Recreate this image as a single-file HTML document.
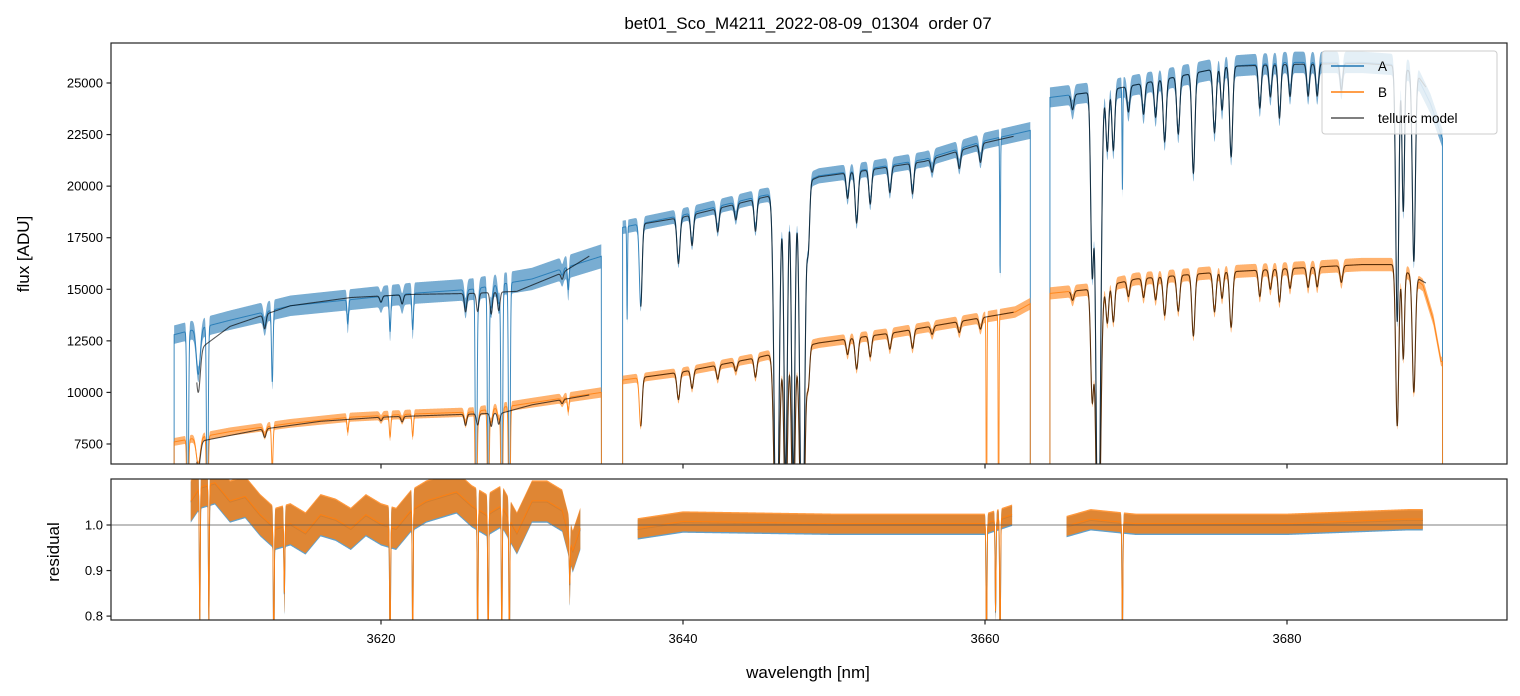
<!DOCTYPE html>
<html><head><meta charset="utf-8">
<style>
html,body{margin:0;padding:0;background:#fff;}
svg{display:block;font-family:"Liberation Sans","DejaVu Sans",sans-serif;}
</style></head>
<body>
<svg id="chart" width="1520" height="696" viewBox="0 0 1520 696" xmlns="http://www.w3.org/2000/svg">
<defs>
<clipPath id="cTop"><rect x="111" y="43" width="1396" height="421"/></clipPath>
<clipPath id="cBot"><rect x="111" y="479" width="1396" height="141"/></clipPath>
</defs>
<rect width="1520" height="696" fill="#fff"/>
<text x="808" y="29" font-size="17" text-anchor="middle" fill="#000">bet01_Sco_M4211_2022-08-09_01304 <tspan>&#160;order 07</tspan></text>
<g id="topData" clip-path="url(#cTop)"></g>
<g id="botData" clip-path="url(#cBot)"></g>
<rect x="111" y="43" width="1396" height="421" fill="none" stroke="#222" stroke-width="1.2"/>
<rect x="111" y="479" width="1396" height="141" fill="none" stroke="#222" stroke-width="1.2"/>
<g id="axes"></g>
<text transform="translate(29,254) rotate(-90)" font-size="17" text-anchor="middle">flux [ADU]</text>
<text transform="translate(59,552) rotate(-90)" font-size="17" text-anchor="middle">residual</text>
<text x="808" y="678" font-size="17" text-anchor="middle">wavelength [nm]</text>
<g id="legendG">
<rect x="1322" y="51" width="175" height="83" rx="3" fill="#fff" fill-opacity="0.8" stroke="#ccc"/>
<line x1="1331" y1="66" x2="1364" y2="66" stroke="#1f77b4" stroke-width="1.5"/>
<text x="1378" y="71" font-size="13.5">A</text>
<line x1="1331" y1="92" x2="1364" y2="92" stroke="#ff7f0e" stroke-width="1.5"/>
<text x="1378" y="97" font-size="13.5">B</text>
<line x1="1331" y1="118" x2="1364" y2="118" stroke="#555" stroke-width="1.5"/>
<text x="1378" y="123" font-size="13.5">telluric model</text>
</g>
</svg>
<script>
// ---- data ----
const segRanges = [[3606.3,3634.6],[3636.0,3663.0],[3664.3,3690.3]];
const modelRanges = [[3607.8,3633.8],[3637.2,3661.9],[3665.6,3689.2]];
const resRanges = [[3607.4,3633.2],[3637.0,3661.8],[3665.4,3689.0]];
const xTicks = [3620,3640,3660,3680];
const yTicksTop = [7500,10000,12500,15000,17500,20000,22500,25000];
const yTicksBot = [0.8,0.9,1.0];
const contAW = [3606.3,3610,3614,3618,3622,3626,3630,3632,3634.6, 3636,3640,3645,3646.5,3649,3652,3656,3660,3663, 3664.3,3666.5,3668.5,3672,3676,3680,3685,3687,3688.5,3689.5,3690.3];
const contAV = [12800,13500,14200,14500,14800,15000,15500,16000,16600, 18000,18600,19500,19700,20500,20800,21300,22200,22700, 24300,24500,24700,25200,25800,26000,26000,25900,25500,24000,22300];
const contBW = [3606.3,3610,3614,3618,3622,3626,3630,3634.6, 3636,3640,3645,3649,3654,3658,3662,3663, 3664.3,3667,3670,3675,3680,3685,3687,3688,3689,3689.7,3690.2];
const contBV = [7600,8100,8500,8800,8950,9050,9500,10000, 10600,11000,11700,12400,12900,13400,13900,14300, 14800,15000,15500,15800,16000,16200,16200,15800,15200,13500,11500];
const modAW = [3607.8,3610,3614,3618,3622,3626,3629,3632,3634, 3636,3640,3645,3646.5,3649,3652,3656,3660,3663, 3664.3,3666.5,3668.5,3672,3676,3680,3685,3687,3688.5,3689.5];
const modAV = [12000,13200,14200,14600,14750,14800,14900,15800,16700, 18000,18500,19400,19650,20450,20750,21200,22100,22600, 24300,24500,24700,25200,25800,25900,25950,25850,25500,24500];
const modBW = [3607.8,3612,3616,3620,3624,3628,3630,3634, 3636,3640,3645,3649,3654,3658,3662, 3664.3,3667,3670,3675,3680,3685,3687,3688,3689.2];
const modBV = [7600,8200,8600,8800,8900,9000,9400,9900, 10600,11000,11700,12400,12900,13400,13900, 14800,15000,15500,15800,16000,16200,16200,15800,15300];
const tellC = [3607.9,3612.3,3620.0,3621.4,3625.6,3626.4,3627.3,3627.8,3632.0, 3637.2,3639.7,3640.6,3642.3,3643.5,3644.8,3646.2,3646.8,3647.3,3647.9,3648.3,3650.9,3651.5,3652.4,3653.7,3655.2,3656.5,3658.3,3659.7, 3665.8,3667.1,3667.5,3668.1,3668.5,3669.5,3670.5,3671.3,3671.9,3672.8,3673.8,3675.2,3675.7,3676.3,3678.2,3678.9,3679.5,3680.2,3681.4,3682.0,3683.6,3687.3,3687.7,3688.4];
const tellD = [0.17,0.05,0.02,0.03,0.06,0.06,0.07,0.06,0.02, 0.22,0.12,0.08,0.06,0.04,0.08,0.97,0.7,0.7,0.97,0.15,0.06,0.12,0.08,0.06,0.07,0.03,0.04,0.04, 0.03,0.35,0.95,0.12,0.12,0.05,0.06,0.07,0.12,0.11,0.19,0.12,0.08,0.17,0.08,0.06,0.1,0.06,0.06,0.06,0.05,0.48,0.27,0.36];
const tellS = [0.13,0.09,0.08,0.08,0.08,0.08,0.08,0.08,0.08, 0.09,0.1,0.09,0.09,0.09,0.09,0.15,0.11,0.11,0.15,0.09,0.09,0.1,0.09,0.09,0.09,0.09,0.09,0.09, 0.09,0.1,0.15,0.09,0.09,0.09,0.09,0.09,0.1,0.1,0.1,0.1,0.09,0.1,0.09,0.09,0.09,0.09,0.09,0.09,0.09,0.1,0.08,0.1];
const extraC = [3607.2,3608.5,3612.8,3617.8,3620.6,3622.1,3626.3,3627.1,3628.0,3628.5,3632.4];
const extraD = [0.8,0.8,0.25,0.08,0.12,0.12,0.9,0.8,0.9,0.9,0.07];
const aOnlyC = [3636.3,3661.0,3669.1];
const aOnlyD = [0.25,0.3,0.2];
const bOnlyC = [3660.1,3660.9];
const bOnlyD = [0.9,0.9];
const noiseA = [0.035,0.018,0.02];
const noiseB = [0.025,0.02,0.02];
const resW = [3607.4,3608,3609,3610,3611,3612,3613,3614,3615,3616,3617,3618,3619,3620,3621,3622,3623,3624,3625,3626,3627,3628,3629,3630,3631,3632,3632.7,3633.2, 3637,3640,3650,3660,3661.8, 3665.4,3667,3670,3680,3688,3689];
const resV = [1.05,1.08,1.09,1.05,1.06,1.02,0.99,1.0,0.98,1.02,1.01,0.99,1.02,1.0,0.99,1.03,1.05,1.06,1.07,1.04,1.02,1.04,0.98,1.05,1.05,1.03,0.94,0.99, 0.99,1.005,1.0,1.0,1.02, 0.995,1.01,1.0,1.0,1.01,1.01];
const resDipC = [3608.0,3608.6,3612.9,3613.6,3620.6,3622.1,3626.4,3627.1,3628.0,3628.5,3632.5, 3660.1,3660.7,3661.0,3669.1];
const resDipD = [0.3,0.3,0.3,0.15,0.3,0.3,0.3,0.3,0.3,0.3,0.1, 0.3,0.2,0.3,0.25];
const resNoise = [0.045,0.022,0.022];

const xS = w => 381 + (w-3620)*15.1;
const yT = f => 83 + (25000-f)/2500*51.57;
const yR = r => 525 + (1-r)*455.5;
const NS = 'http://www.w3.org/2000/svg';

function interp(W,V,w){
  if(w<=W[0]) return V[0];
  for(let i=1;i<W.length;i++){ if(w<=W[i]){const t=(w-W[i-1])/(W[i]-W[i-1]);return V[i-1]+t*(V[i]-V[i-1]);} }
  return V[V.length-1];
}
function absorb(w,C,D,S,sdef){
  let f=1;
  for(let i=0;i<C.length;i++){const s=S?S[i]:sdef;const d=w-C[i]; if(Math.abs(d)<6*s) f*=1-D[i]*Math.exp(-d*d/(2*s*s));}
  return f;
}
function mk(tag,parent){const e=document.createElementNS(NS,tag);parent.appendChild(e);return e;}
const topG=document.getElementById('topData'), botG=document.getElementById('botData'), axesG=document.getElementById('axes');

function dataFlux(w,CW,CV,onlyC,onlyD){
  return interp(CW,CV,w)*absorb(w,tellC,tellD,tellS)*absorb(w,extraC,extraD,null,0.05)*absorb(w,onlyC,onlyD,null,0.025);
}
function drawSeries(CW,CV,onlyC,onlyD,noise,color,name){
  segRanges.forEach((r,si)=>{
    const up=[],lo=[],mid=[];
    for(let w=r[0];w<=r[1];w+=0.015){
      const f=dataFlux(w,CW,CV,onlyC,onlyD);
      const x=xS(w).toFixed(2);
      mid.push(x+','+yT(f).toFixed(2));
      up.push(x+','+yT(f*(1+noise[si])).toFixed(2));
      lo.push(x+','+yT(f*(1-noise[si])).toFixed(2));
    }
    const band=mk('polygon',topG);
    
    
    band.setAttribute('points', up.concat(lo.reverse()).join(' '));
    band.setAttribute('fill', color); band.setAttribute('fill-opacity','0.6');
    const ln=mk('polyline',topG);
    
    
    const x0=xS(r[0]).toFixed(2), x1=xS(r[1]).toFixed(2);
    ln.setAttribute('points', x0+',470 '+mid.join(' ')+' '+x1+',470');
    ln.setAttribute('fill','none'); ln.setAttribute('stroke',color); ln.setAttribute('stroke-width','1'); ln.setAttribute('stroke-opacity','0.85');
  });
}
function drawModel(MW,MV,name){
  modelRanges.forEach(r=>{
    const pts=[];
    for(let w=r[0];w<=r[1];w+=0.015){
      const f=interp(MW,MV,w)*absorb(w,tellC,tellD,tellS);
      pts.push(xS(w).toFixed(2)+','+yT(f).toFixed(2));
    }
    const ln=mk('polyline',topG);
    
    
    ln.setAttribute('points',pts.join(' '));
    ln.setAttribute('fill','none'); ln.setAttribute('stroke','#000'); ln.setAttribute('stroke-opacity','0.65'); ln.setAttribute('stroke-width','1.1');
  });
}
drawSeries(contAW,contAV,aOnlyC,aOnlyD,noiseA,'#1f77b4','a');
drawSeries(contBW,contBV,bOnlyC,bOnlyD,noiseB,'#ff7f0e','b');
drawModel(modAW,modAV,'telluric-model-a');
drawModel(modBW,modBV,'telluric-model-b');

function drawResid(color,name,extra,op){
  resRanges.forEach((r,si)=>{
    const up=[],lo=[],mid=[];
    for(let w=r[0];w<=r[1];w+=0.015){
      const v=interp(resW,resV,w)-(1-absorb(w,resDipC,resDipD,null,0.03))+extra;
      const x=xS(w).toFixed(2);
      mid.push(x+','+yR(v).toFixed(2));
      up.push(x+','+yR(v+resNoise[si]).toFixed(2));
      lo.push(x+','+yR(v-resNoise[si]).toFixed(2));
    }
    const band=mk('polygon',botG);
    
    
    band.setAttribute('points', up.concat(lo.reverse()).join(' '));
    band.setAttribute('fill',color); band.setAttribute('fill-opacity',op);
    const ln=mk('polyline',botG);
    
    
    ln.setAttribute('points',mid.join(' '));
    ln.setAttribute('fill','none'); ln.setAttribute('stroke',color); ln.setAttribute('stroke-width','0.9');
  });
}
drawResid('#1f77b4','a',0,'0.7');
drawResid('#ff7f0e','b',0.003,'0.8');
const hl=mk('line',botG);


hl.setAttribute('x1',111);hl.setAttribute('x2',1507);hl.setAttribute('y1',yR(1));hl.setAttribute('y2',yR(1));
hl.setAttribute('stroke','#555');hl.setAttribute('stroke-width','0.8');

xTicks.forEach(t=>{
  const x=xS(t);
  [[464,468.5],[620,624.5]].forEach(p=>{
    const l=mk('line',axesG);
    
    
    l.setAttribute('x1',x);l.setAttribute('x2',x);l.setAttribute('y1',p[0]);l.setAttribute('y2',p[1]);l.setAttribute('stroke','#222');l.setAttribute('stroke-width','1.2');
  });
  const tx=mk('text',axesG);
  
  
  tx.setAttribute('x',x);tx.setAttribute('y',643);tx.setAttribute('font-size','13');tx.setAttribute('text-anchor','middle');
  tx.textContent=t;
});
yTicksTop.forEach(t=>{
  const y=yT(t);
  const l=mk('line',axesG);
  
  
  l.setAttribute('x1',106.5);l.setAttribute('x2',111);l.setAttribute('y1',y);l.setAttribute('y2',y);l.setAttribute('stroke','#222');l.setAttribute('stroke-width','1.2');
  const tx=mk('text',axesG);
  
  
  tx.setAttribute('x',103);tx.setAttribute('y',y+4.5);tx.setAttribute('font-size','13');tx.setAttribute('text-anchor','end');
  tx.textContent=t;
});
yTicksBot.forEach(t=>{
  const y=yR(t);
  const l=mk('line',axesG);
  
  
  l.setAttribute('x1',106.5);l.setAttribute('x2',111);l.setAttribute('y1',y);l.setAttribute('y2',y);l.setAttribute('stroke','#222');l.setAttribute('stroke-width','1.2');
  const tx=mk('text',axesG);
  
  
  tx.setAttribute('x',103);tx.setAttribute('y',y+4.5);tx.setAttribute('font-size','13');tx.setAttribute('text-anchor','end');
  tx.textContent=t.toFixed(1);
});
document.getElementById('chart').appendChild(document.getElementById('legendG'));
</script>
</body></html>
